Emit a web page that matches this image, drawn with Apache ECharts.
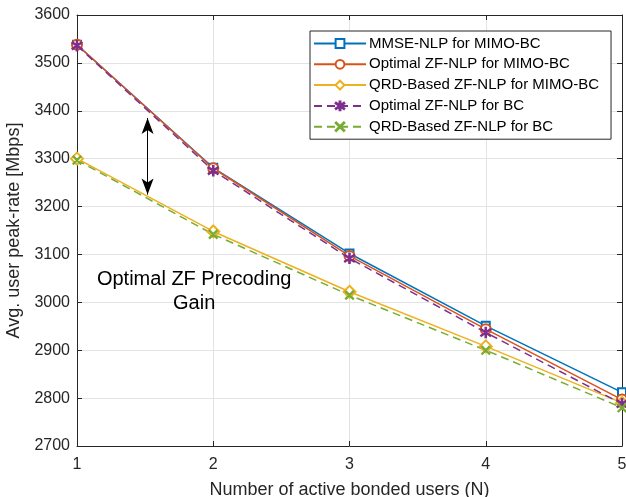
<!DOCTYPE html>
<html>
<head>
<meta charset="utf-8">
<script src="https://cdn.jsdelivr.net/npm/echarts@6/dist/echarts.min.js"></script>
<style>
  html, body { margin: 0; padding: 0; background: #fff; }
  #chart { width: 626px; height: 497px; }
</style>
</head>
<body>
<div id="chart"></div>
<script>
// Number of active bonded users
const users = [1, 2, 3, 4, 5];

// Average user peak-rate [Mbps] per scheme
const mmseMimoBc   = [3538, 3281, 3102, 2951, 2812];
const optZfMimoBc  = [3538, 3280, 3097, 2944, 2797];
const qrdZfMimoBc  = [3300, 3148, 3022, 2908, 2790];
const optZfBc      = [3536, 3275, 3092, 2937, 2788];
const qrdZfBc      = [3297, 3142, 3015, 2900, 2780];

const seriesNames = [
  'MMSE-NLP for MIMO-BC',
  'Optimal ZF-NLP for MIMO-BC',
  'QRD-Based ZF-NLP for MIMO-BC',
  'Optimal ZF-NLP for BC',
  'QRD-Based ZF-NLP for BC'
];

// Gain annotation (double arrow) and its caption, in data units
const gainArrow = [[1.518, 3385], [1.518, 3225]];
const gainText = { pos: [1.86, 3022], text: 'Optimal ZF Precoding\nGain' };

const colors = ['#0072BD', '#D95319', '#EDB120', '#7E2F8E', '#77AC30'];

const asteriskPath = 'path://M9,0 L11,0 L11,20 L9,20 Z M1.0,4.3 L2.0,2.6 L19.0,15.7 L18.0,17.4 Z M18.0,2.6 L19.0,4.3 L2.0,17.4 L1.0,15.7 Z';
const crossPath = 'path://M0,1.4 L1.4,0 L20,18.6 L18.6,20 Z M18.6,0 L20,1.4 L1.4,20 L0,18.6 Z';

const pairs = d => users.map((u, i) => [u, d[i]]);

const axisColor = '#262626';
const font = 'Liberation Sans, Arial, Helvetica, sans-serif';

function line(name, data, color, symbol, size, dashed) {
  return {
    name: name,
    type: 'line',
    data: pairs(data),
    symbol: symbol,
    symbolSize: size,
    showAllSymbol: true,
    color: color,
    lineStyle: { color: color, width: 1.5, type: dashed ? [8, 5] : 'solid' },
    itemStyle: { color: color, borderColor: color, borderWidth: 1.5 },
    z: 3
  };
}

const series = [
  line(seriesNames[0], mmseMimoBc, colors[0], 'emptyRect', 8, false),
  line(seriesNames[1], optZfMimoBc, colors[1], 'emptyCircle', 10, false),
  line(seriesNames[2], qrdZfMimoBc, colors[2], 'emptyDiamond', 12, false),
  line(seriesNames[3], optZfBc, colors[3], asteriskPath, 10, true),
  line(seriesNames[4], qrdZfBc, colors[4], crossPath, 8, true)
];

series[0].markLine = {
  silent: true,
  symbol: ['arrow', 'arrow'],
  symbolSize: [9, 16],
  label: { show: false },
  lineStyle: { color: '#000', width: 1, type: 'solid' },
  data: [[{ coord: gainArrow[0] }, { coord: gainArrow[1] }]]
};
series[0].markPoint = {
  silent: true,
  symbol: 'circle',
  symbolSize: 0,
  label: {
    show: true,
    position: 'inside',
    formatter: gainText.text,
    color: '#000',
    fontFamily: font,
    fontSize: 20,
    lineHeight: 24,
    align: 'center'
  },
  data: [{ coord: gainText.pos }]
};

const chart = echarts.init(document.getElementById('chart'), null, { renderer: 'canvas' });

const baseAxis = {
  axisLine: { show: true, lineStyle: { color: axisColor, width: 1 } },
  axisTick: { show: true, inside: true, length: 5, lineStyle: { color: axisColor } },
  axisLabel: { color: axisColor, fontFamily: font, fontSize: 16, formatter: v => String(v) },
  splitLine: { show: true, lineStyle: { color: '#e3e3e3', width: 1 } }
};

chart.setOption({
  animation: false,
  backgroundColor: '#fff',
  color: colors,
  grid: { left: 77, right: 4, top: 15, bottom: 51, containLabel: false, outerBoundsMode: 'none' },
  legend: {
    orient: 'vertical',
    left: 310,
    top: 31,
    padding: [5, 12, 5, 3],
    itemWidth: 52,
    itemHeight: 11,
    itemGap: 5.8,
    backgroundColor: '#fff',
    borderColor: '#262626',
    borderWidth: 1,
    textStyle: { color: '#000', fontFamily: font, fontSize: 15, lineHeight: 14, padding: [0, 0, 0, -2] },
    data: seriesNames
  },
  xAxis: [
    Object.assign({}, baseAxis, {
      type: 'value', min: 1, max: 5, interval: 1, position: 'bottom',
      name: 'Number of active bonded users (N)',
      nameLocation: 'middle', nameGap: 35,
      nameTextStyle: { color: axisColor, fontFamily: font, fontSize: 18 },
      axisLabel: Object.assign({}, baseAxis.axisLabel, { margin: 11 })
    }),
    Object.assign({}, baseAxis, {
      type: 'value', min: 1, max: 5, interval: 1, position: 'top',
      axisLabel: { show: false }, splitLine: { show: false }
    })
  ],
  yAxis: [
    Object.assign({}, baseAxis, {
      type: 'value', min: 2700, max: 3600, interval: 100, position: 'left',
      name: 'Avg. user peak-rate [Mbps]',
      nameLocation: 'middle', nameGap: 40, nameRotate: 90,
      nameTextStyle: { color: axisColor, fontFamily: font, fontSize: 18 },
      axisLabel: Object.assign({}, baseAxis.axisLabel, { margin: 7 })
    }),
    Object.assign({}, baseAxis, {
      type: 'value', min: 2700, max: 3600, interval: 100, position: 'right',
      axisLabel: { show: false }, splitLine: { show: false }
    })
  ],
  series: series
});
</script>
</body>
</html>
